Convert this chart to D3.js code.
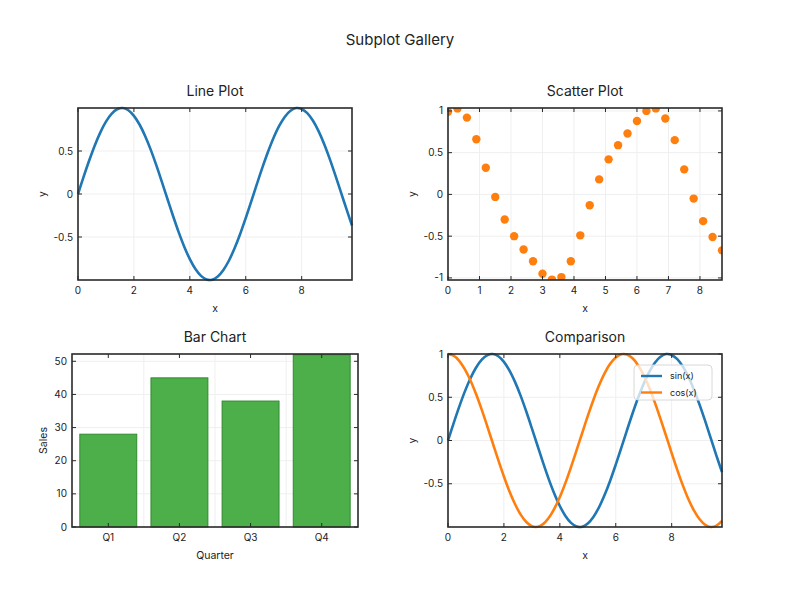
<!DOCTYPE html>
<html>
<head>
<meta charset="utf-8">
<script src="https://cdn.jsdelivr.net/npm/d3@7"></script>
<style>
  body { margin: 0; background: #fff; }
  text { font-family: Inter, "Liberation Sans", sans-serif; fill: #222; }
</style>
</head>
<body>
<script>
// Sampled x positions for the curves
var curveX = [0, 0.2, 0.4, 0.6, 0.8, 1.0, 1.2, 1.4, 1.6, 1.8, 2.0, 2.2, 2.4, 2.6, 2.8, 3.0, 3.2, 3.4, 3.6, 3.8,
              4.0, 4.2, 4.4, 4.6, 4.8, 5.0, 5.2, 5.4, 5.6, 5.8, 6.0, 6.2, 6.4, 6.6, 6.8, 7.0, 7.2, 7.4, 7.6, 7.8,
              8.0, 8.2, 8.4, 8.6, 8.8, 9.0, 9.2, 9.4, 9.6, 9.8];
var sinY = [0, 0.199, 0.389, 0.565, 0.717, 0.841, 0.932, 0.985, 1.0, 0.974, 0.909, 0.808, 0.675, 0.516, 0.335,
            0.141, -0.058, -0.256, -0.443, -0.612, -0.757, -0.872, -0.952, -0.994, -0.996, -0.959, -0.883,
            -0.773, -0.631, -0.465, -0.279, -0.083, 0.117, 0.312, 0.494, 0.657, 0.794, 0.899, 0.968, 0.999,
            0.989, 0.941, 0.855, 0.734, 0.585, 0.412, 0.223, 0.025, -0.174, -0.366];
var cosY = [1, 0.980, 0.921, 0.825, 0.697, 0.540, 0.362, 0.170, -0.029, -0.227, -0.416, -0.589, -0.737, -0.857,
            -0.942, -0.990, -0.998, -0.967, -0.897, -0.791, -0.654, -0.490, -0.307, -0.112, 0.087, 0.284, 0.469,
            0.635, 0.776, 0.886, 0.960, 0.997, 0.993, 0.950, 0.870, 0.754, 0.608, 0.438, 0.250, 0.054, -0.146,
            -0.339, -0.519, -0.680, -0.811, -0.911, -0.975, -1.0, -0.985, -0.930];

// Scatter points
var scatterX = [0, 0.3, 0.6, 0.9, 1.2, 1.5, 1.8, 2.1, 2.4, 2.7, 3.0, 3.3, 3.6, 3.9, 4.2,
                4.5, 4.8, 5.1, 5.4, 5.7, 6.0, 6.3, 6.6, 6.9, 7.2, 7.5, 7.8, 8.1, 8.4, 8.7];
var scatterY = [0.99, 1.03, 0.92, 0.66, 0.32, -0.03, -0.30, -0.50, -0.66, -0.80, -0.95, -1.02, -0.99, -0.80, -0.49,
                -0.13, 0.18, 0.42, 0.59, 0.73, 0.88, 1.0, 1.03, 0.91, 0.65, 0.30, -0.05, -0.32, -0.51, -0.67];

// Bar data
var quarters = ["Q1", "Q2", "Q3", "Q4"];
var sales = [28, 45, 38, 52];

var xTicks = [0, 2, 4, 6, 8];
var scatterXTicks = [0, 1, 2, 3, 4, 5, 6, 7, 8];
var sinTicks = [-0.5, 0, 0.5];
var scatterYTicks = [-1, -0.5, 0, 0.5, 1];
var compYTicks = [-0.5, 0, 0.5, 1];
var salesTicks = [0, 10, 20, 30, 40, 50];

var blue = "#1f77b4", orange = "#ff7f0e", green = "#4caf4a";

var svg = d3.select("body").append("svg")
    .attr("width", 800)
    .attr("height", 600);

svg.append("text")
    .attr("x", 400).attr("y", 45)
    .attr("text-anchor", "middle")
    .style("font-size", "15px")
    .text("Subplot Gallery");

var fmt = function(d) { return d === 0 ? "0" : String(d); };

// draws frame, grid, mirrored inward ticks, labels and title for one panel
function panel(box, x, y, opt) {
    var g = svg.append("g");
    var xt = opt.xTicks, yt = opt.yTicks;

    // grid
    var gridX = opt.xGridPx || xt.map(d => x(d));
    g.selectAll(".gx").data(gridX).enter().append("line")
        .attr("x1", d => d).attr("x2", d => d)
        .attr("y1", box.top).attr("y2", box.bottom)
        .attr("stroke", "#efefef").attr("stroke-width", 1);
    g.selectAll(".gy").data(yt).enter().append("line")
        .attr("x1", box.left).attr("x2", box.right)
        .attr("y1", d => y(d)).attr("y2", d => y(d))
        .attr("stroke", "#efefef").attr("stroke-width", 1);

    opt.draw(g);

    // frame
    g.append("rect")
        .attr("x", box.left).attr("y", box.top)
        .attr("width", box.right - box.left).attr("height", box.bottom - box.top)
        .attr("fill", "none").attr("stroke", "#2a2a2a").attr("stroke-width", 1.6);

    // inward ticks on all sides
    var tl = 4;
    xt.forEach(function(d) {
        var px = x(d);
        g.append("line").attr("x1", px).attr("x2", px).attr("y1", box.bottom).attr("y2", box.bottom - tl).attr("stroke", "#2a2a2a");
        g.append("line").attr("x1", px).attr("x2", px).attr("y1", box.top).attr("y2", box.top + tl).attr("stroke", "#2a2a2a");
    });
    yt.forEach(function(d) {
        var py = y(d);
        g.append("line").attr("y1", py).attr("y2", py).attr("x1", box.left).attr("x2", box.left + tl).attr("stroke", "#2a2a2a");
        g.append("line").attr("y1", py).attr("y2", py).attr("x1", box.right).attr("x2", box.right - tl).attr("stroke", "#2a2a2a");
    });

    // tick labels
    g.selectAll(".xl").data(xt).enter().append("text")
        .attr("x", d => x(d))
        .attr("y", box.bottom + 14)
        .attr("text-anchor", "middle")
        .style("font-size", "10px")
        .text(d => typeof d === "number" ? fmt(d) : d);
    g.selectAll(".yl").data(yt).enter().append("text")
        .attr("x", box.left - 5)
        .attr("y", d => y(d))
        .attr("dy", "0.35em")
        .attr("text-anchor", "end")
        .style("font-size", "10px")
        .text(d => fmt(d));

    // axis labels
    g.append("text")
        .attr("x", (box.left + box.right) / 2).attr("y", box.bottom + 32)
        .attr("text-anchor", "middle")
        .style("font-size", "10.5px")
        .text(opt.xLabel);
    g.append("text")
        .attr("transform", "translate(" + opt.yLabelX + "," + ((box.top + box.bottom) / 2) + ") rotate(-90)")
        .attr("text-anchor", "middle")
        .attr("dy", "0.35em")
        .style("font-size", "10.5px")
        .text(opt.yLabel);

    // title
    g.append("text")
        .attr("x", (box.left + box.right) / 2).attr("y", box.top - 12)
        .attr("text-anchor", "middle")
        .style("font-size", "14px")
        .text(opt.title);
}

var lineOf = function(x, y, ys) {
    return d3.line()
        .x((d, i) => x(curveX[i]))
        .y(d => y(d))
        .curve(d3.curveCatmullRom)(ys);
};

// Line Plot
(function() {
    var box = {left: 78, right: 352, top: 108, bottom: 280};
    var x = d3.scaleLinear().domain([0, 9.8]).range([box.left, box.right]);
    var y = d3.scaleLinear().domain([-1, 1]).range([box.bottom, box.top]);
    panel(box, x, y, {
        xTicks: xTicks, yTicks: sinTicks, xLabel: "x", yLabel: "y", yLabelX: 42, title: "Line Plot",
        draw: function(g) {
            g.append("path").attr("d", lineOf(x, y, sinY))
                .attr("fill", "none").attr("stroke", blue).attr("stroke-width", 2.6);
        }
    });
})();

// Scatter Plot
(function() {
    var box = {left: 448, right: 722, top: 108, bottom: 280};
    var x = d3.scaleLinear().domain([0, 8.7]).range([box.left, box.right]);
    var y = d3.scaleLinear().domain([-1.025, 1.035]).range([box.bottom, box.top]);
    panel(box, x, y, {
        xTicks: scatterXTicks, yTicks: scatterYTicks, xLabel: "x", yLabel: "y", yLabelX: 412, title: "Scatter Plot",
        draw: function(g) {
            var clip = g.append("clipPath").attr("id", "clip-sc");
            clip.append("rect").attr("x", box.left).attr("y", box.top)
                .attr("width", box.right - box.left).attr("height", box.bottom - box.top);
            g.append("g").attr("clip-path", "url(#clip-sc)")
                .selectAll("circle").data(scatterX).enter().append("circle")
                .attr("cx", d => x(d))
                .attr("cy", (d, i) => y(scatterY[i]))
                .attr("r", 4.2)
                .attr("fill", orange);
        }
    });
})();

// Bar Chart
(function() {
    var box = {left: 72, right: 358, top: 354, bottom: 527};
    var x = d3.scaleBand().domain(quarters).range([box.left, box.right]).paddingInner(0.2).paddingOuter(0.11);
    var y = d3.scaleLinear().domain([0, 52.2]).range([box.bottom, box.top]);
    var xc = function(q) { return x(q) + x.bandwidth() / 2; };
    // vertical grid lines sit in the gaps between bars
    var gaps = quarters.slice(1).map(q => x(q) - x.step() * x.paddingInner() / 2);
    panel(box, xc, y, {
        xTicks: quarters, yTicks: salesTicks, xLabel: "Quarter", yLabel: "Sales", yLabelX: 43, title: "Bar Chart",
        xGridPx: gaps,
        draw: function(g) {
            g.selectAll(".bar").data(quarters).enter().append("rect")
                .attr("x", d => x(d))
                .attr("width", x.bandwidth())
                .attr("y", (d, i) => y(sales[i]))
                .attr("height", (d, i) => box.bottom - y(sales[i]))
                .attr("fill", green)
                .attr("stroke", "#2f8a2d")
                .attr("stroke-width", 1);
        }
    });
})();

// Comparison
(function() {
    var box = {left: 448, right: 722, top: 354, bottom: 527};
    var x = d3.scaleLinear().domain([0, 9.8]).range([box.left, box.right]);
    var y = d3.scaleLinear().domain([-1, 1]).range([box.bottom, box.top]);
    panel(box, x, y, {
        xTicks: xTicks, yTicks: compYTicks, xLabel: "x", yLabel: "y", yLabelX: 412, title: "Comparison",
        draw: function(g) {
            g.append("path").attr("d", lineOf(x, y, sinY))
                .attr("fill", "none").attr("stroke", blue).attr("stroke-width", 2.6);
            g.append("path").attr("d", lineOf(x, y, cosY))
                .attr("fill", "none").attr("stroke", orange).attr("stroke-width", 2.6);

            // legend
            var lg = g.append("g");
            lg.append("rect")
                .attr("x", 634).attr("y", 365).attr("width", 78).attr("height", 35)
                .attr("rx", 4)
                .attr("fill", "rgba(255,255,255,0.75)")
                .attr("stroke", "#d8d8d8");
            [["sin(x)", blue], ["cos(x)", orange]].forEach(function(e, i) {
                var ly = 376 + i * 16.5;
                lg.append("line").attr("x1", 641).attr("x2", 662).attr("y1", ly).attr("y2", ly)
                    .attr("stroke", e[1]).attr("stroke-width", 2.4);
                lg.append("text").attr("x", 670).attr("y", ly).attr("dy", "0.35em")
                    .style("font-size", "9px").text(e[0]);
            });
        }
    });
})();
</script>
</body>
</html>
